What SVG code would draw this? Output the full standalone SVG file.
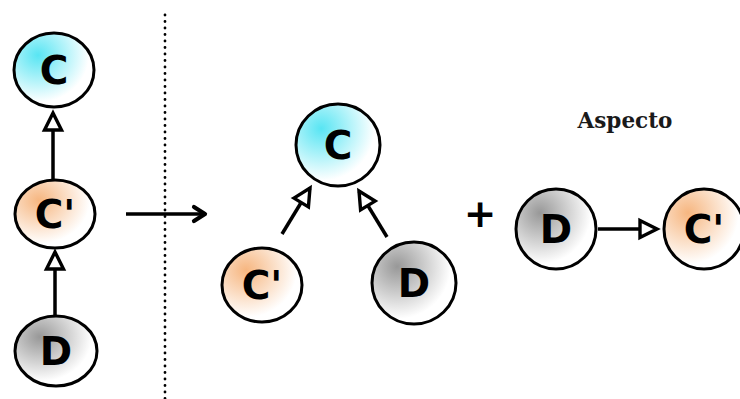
<svg xmlns="http://www.w3.org/2000/svg" width="740" height="399" viewBox="0 0 740 399">
  <style>
    .node { stroke: #000; stroke-width: 3; }
    .lbl { font-family: "DejaVu Sans", "Liberation Sans", sans-serif; font-weight: bold; font-size: 39px; text-anchor: middle; fill: #000; }
    .edge { stroke: #000; stroke-width: 3.5; fill: none; }
    .cap { font-family: "DejaVu Serif", "Liberation Serif", serif; font-weight: bold; font-size: 21.5px; text-anchor: middle; fill: #1a1a1a; }
  </style>
  <defs>
    <!-- soft fills: strong tint near the upper left, fading to white -->
    <radialGradient id="gC" cx="0.3" cy="0.3" r="0.75">
      <stop offset="0" stop-color="#58e5f3"/>
      <stop offset="0.85" stop-color="#ffffff"/>
    </radialGradient>
    <radialGradient id="gP" cx="0.3" cy="0.3" r="0.75">
      <stop offset="0" stop-color="#f6b680"/>
      <stop offset="0.85" stop-color="#ffffff"/>
    </radialGradient>
    <radialGradient id="gD" cx="0.3" cy="0.3" r="0.75">
      <stop offset="0" stop-color="#989898"/>
      <stop offset="0.85" stop-color="#ffffff"/>
    </radialGradient>
    <marker id="tri" markerUnits="userSpaceOnUse" markerWidth="20" markerHeight="20" refX="0" refY="0" orient="auto" overflow="visible">
      <path d="M -17,-8.5 L 0,0 L -17,8.5 Z" fill="#fff" stroke="#000" stroke-width="3.4" stroke-linejoin="miter"/>
    </marker>
    <marker id="chev" markerUnits="userSpaceOnUse" markerWidth="20" markerHeight="20" refX="0" refY="0" orient="auto" overflow="visible">
      <path d="M -11,-7 L 0,0 L -11,7" fill="none" stroke="#000" stroke-width="4.2" stroke-linecap="round" stroke-linejoin="round"/>
    </marker>
  </defs>

  <!-- separator -->
  <line x1="165" y1="15" x2="165" y2="399" stroke="#000" stroke-width="2.8" stroke-linecap="round" stroke-dasharray="0.1 6.4"/>

  <g id="connectors">
    <line class="edge" x1="53" y1="180" x2="53" y2="113" marker-end="url(#tri)"/>
    <line class="edge" x1="55" y1="316" x2="55" y2="252" marker-end="url(#tri)"/>
    <line class="edge" x1="126" y1="214" x2="205" y2="214" stroke-width="4" marker-end="url(#chev)"/>
    <line class="edge" x1="282" y1="234" x2="310" y2="188" marker-end="url(#tri)"/>
    <line class="edge" x1="387" y1="237" x2="359" y2="191" marker-end="url(#tri)"/>
    <line class="edge" x1="598" y1="229" x2="657" y2="229" marker-end="url(#tri)"/>
  </g>

  <g id="left-c">
    <ellipse class="node" cx="54" cy="70" rx="40" ry="37" fill="url(#gC)"/>
    <text class="lbl" x="54" y="84">C</text>
  </g>
  <g id="left-cp">
    <ellipse class="node" cx="55" cy="214" rx="40" ry="34" fill="url(#gP)"/>
    <text class="lbl" x="55" y="228">C'</text>
  </g>
  <g id="left-d">
    <ellipse class="node" cx="56" cy="351" rx="41" ry="35" fill="url(#gD)"/>
    <text class="lbl" x="56" y="365">D</text>
  </g>

  <g id="mid-c">
    <ellipse class="node" cx="338" cy="145" rx="42" ry="41" fill="url(#gC)"/>
    <text class="lbl" x="338" y="159">C</text>
  </g>
  <g id="mid-cp">
    <ellipse class="node" cx="262" cy="285" rx="40" ry="37" fill="url(#gP)"/>
    <text class="lbl" x="262" y="299">C'</text>
  </g>
  <g id="mid-d">
    <ellipse class="node" cx="414" cy="283" rx="42" ry="41" fill="url(#gD)"/>
    <text class="lbl" x="414" y="297">D</text>
  </g>

  <g id="plus">
    <text class="lbl" x="480" y="227">+</text>
  </g>

  <g id="aspect-label">
    <text class="cap" x="625" y="128">Aspecto</text>
  </g>
  <g id="right-d">
    <ellipse class="node" cx="556" cy="229" rx="40" ry="40" fill="url(#gD)"/>
    <text class="lbl" x="556" y="243">D</text>
  </g>
  <g id="right-cp">
    <ellipse class="node" cx="704" cy="229" rx="40" ry="40" fill="url(#gP)"/>
    <text class="lbl" x="704" y="243">C'</text>
  </g>
</svg>
